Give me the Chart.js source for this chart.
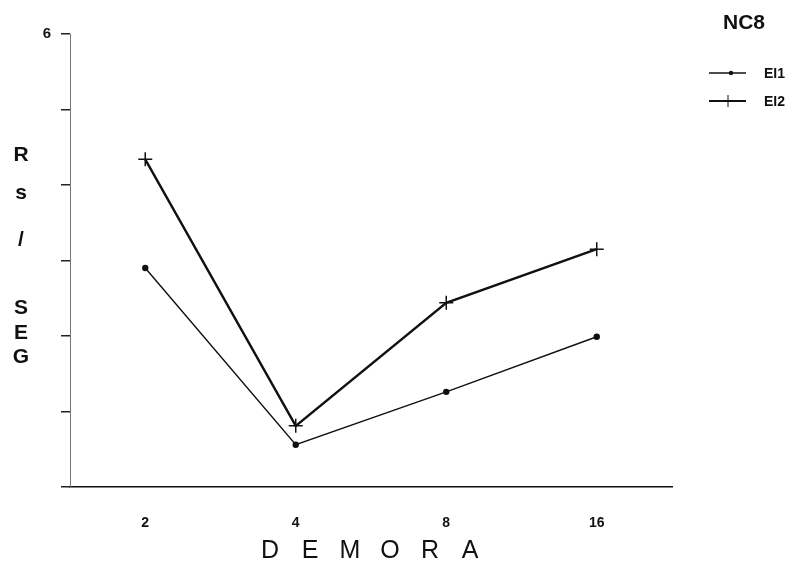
<!DOCTYPE html>
<html>
<head>
<meta charset="utf-8">
<script src="https://cdn.jsdelivr.net/npm/chart.js@4"></script>
<style>
  html, body { margin: 0; padding: 0; background: #fff; }
  #wrap { width: 802px; height: 570px; }
</style>
</head>
<body>
<div id="wrap"><canvas id="myChart"></canvas></div>
<script>
// data
const demora = ['2', '4', '8', '16'];
const ei1 = [2.90, 0.56, 1.26, 1.99];
const ei2 = [4.34, 0.81, 2.44, 3.15];
const yTicks = [6];

const yTitle = ['R', 's', '/', 'S', 'E', 'G'];
const yTitleY = [155, 193, 240, 308, 333, 357];
const xTitle = 'DEMORA';
const legendTitle = 'NC8';
const seriesNames = ['EI1', 'EI2'];

// titles and legend drawn by hand, the way the old plot has them
const textPlugin = {
    id: 'textPlugin',
    afterDraw(chart) {
        const ctx = chart.ctx;
        const area = chart.chartArea;
        ctx.save();
        ctx.fillStyle = '#111';
        ctx.textAlign = 'center';
        ctx.textBaseline = 'middle';

        // y title, letters stacked
        ctx.font = 'bold 21px "Liberation Sans", Arial, sans-serif';
        yTitle.forEach((ch, i) => ctx.fillText(ch, 21, yTitleY[i]));

        // x title, spread letters
        ctx.font = '25px "Liberation Sans", Arial, sans-serif';
        const mid = (area.left + area.right) / 2;
        xTitle.split('').forEach((ch, i) => ctx.fillText(ch, mid - 1 + (i - 2.5) * 40, 551));

        // legend
        ctx.font = 'bold 21px "Liberation Sans", Arial, sans-serif';
        ctx.fillText(legendTitle, 744, 23);
        ctx.font = 'bold 14px "Liberation Sans", Arial, sans-serif';
        ctx.textAlign = 'left';
        ctx.strokeStyle = '#111';

        // EI1 sample
        ctx.lineWidth = 1.5;
        ctx.beginPath(); ctx.moveTo(709, 73); ctx.lineTo(746, 73); ctx.stroke();
        ctx.beginPath(); ctx.arc(731, 73, 2.2, 0, Math.PI * 2); ctx.fill();
        ctx.fillText(seriesNames[0], 764, 74);

        // EI2 sample
        ctx.lineWidth = 2;
        ctx.beginPath(); ctx.moveTo(709, 101); ctx.lineTo(746, 101); ctx.stroke();
        ctx.lineWidth = 1;
        ctx.beginPath(); ctx.moveTo(728, 95); ctx.lineTo(728, 107); ctx.stroke();
        ctx.fillText(seriesNames[1], 764, 102);
        ctx.restore();
    }
};

const data = {
    labels: demora,
    datasets: [
        {
            label: seriesNames[0],
            data: ei1,
            borderColor: '#111',
            backgroundColor: '#111',
            borderWidth: 1.4,
            pointStyle: 'circle',
            pointRadius: 2.5,
            tension: 0
        },
        {
            label: seriesNames[1],
            data: ei2,
            borderColor: '#111',
            backgroundColor: '#111',
            borderWidth: 2.4,
            pointStyle: 'cross',
            pointRadius: 7,
            pointBorderWidth: 1.5,
            tension: 0
        }
    ]
};

const options = {
    responsive: false,
    animation: false,
    layout: {
        padding: { top: 34, right: 130, left: 0, bottom: 0 }
    },
    plugins: {
        legend: { display: false },
        tooltip: { enabled: false }
    },
    scales: {
        x: {
            offset: true,
            grid: { display: false, drawTicks: false },
            border: { display: true, color: '#111', width: 1.5 },
            ticks: {
                color: '#111',
                padding: 28,
                font: { family: '"Liberation Sans", Arial, sans-serif', size: 14, weight: 'bold' }
            },
            afterFit(scale) { scale.height = 83; }
        },
        y: {
            min: 0,
            max: 6,
            ticks: {
                stepSize: 1,
                color: '#111',
                padding: 10,
                font: { family: '"Liberation Sans", Arial, sans-serif', size: 15, weight: 'bold' },
                callback: (v) => yTicks.includes(v) ? String(v) : ''
            },
            grid: {
                drawOnChartArea: false,
                tickLength: 9,
                color: '#222',
                lineWidth: 1.5
            },
            border: { display: true, color: '#777', width: 1, dash: [2, 6] },
            afterFit(scale) { scale.width = 70; }
        }
    }
};

const config = {
    type: 'line',
    data,
    options,
    plugins: [textPlugin]
};

const canvas = document.getElementById('myChart');
canvas.width = 802;
canvas.height = 570;
const myChart = new Chart(canvas, config);
</script>
</body>
</html>
